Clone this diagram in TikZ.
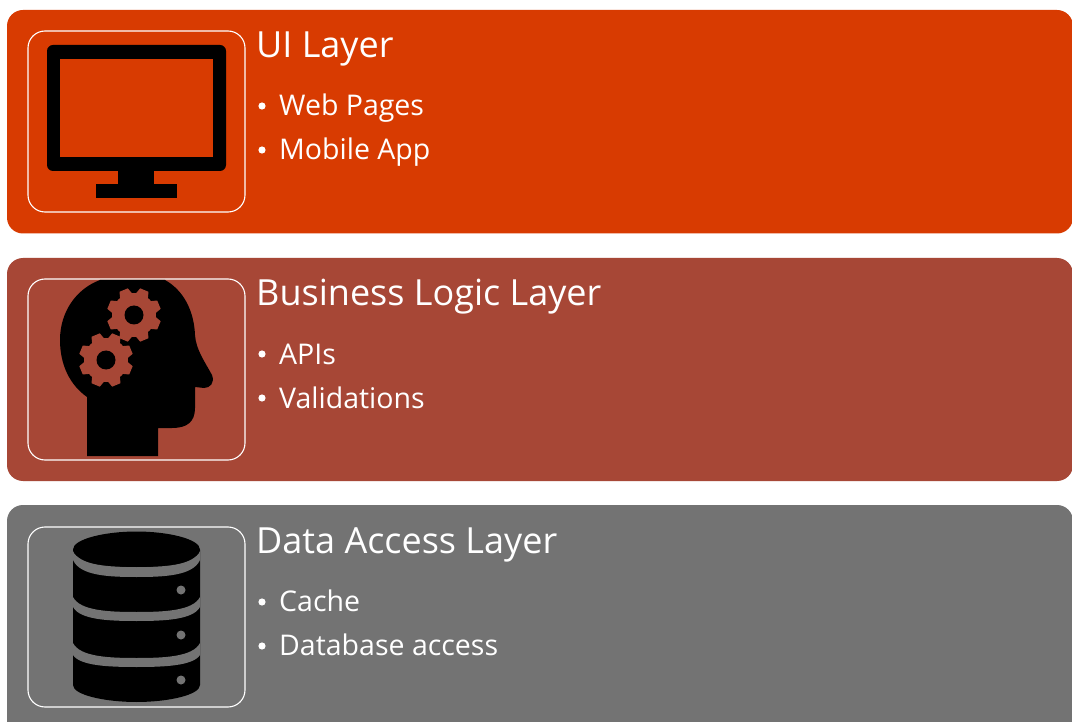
\documentclass[tikz,border=0pt]{standalone}
\usepackage{fontspec}
\setmainfont{Open Sans}[Scale=1]
\definecolor{uiC}{HTML}{D83B01}
\definecolor{blC}{HTML}{A74736}
\definecolor{daC}{HTML}{737373}
\tikzset{
  barbox/.style={rounded corners=16pt, draw=none},
  iconbox/.style={draw=white, line width=1.1pt, rounded corners=17pt, fill=none},
  titletext/.style={anchor=base west, inner sep=0pt, text=white, font=\fontsize{36}{36}\selectfont},
  itemtext/.style={anchor=base west, inner sep=0pt, text=white, font=\fontsize{28.5}{28.5}\selectfont},
}
\begin{document}
\begin{tikzpicture}[x=1pt,y=-1pt]
\useasboundingbox (0,0) rectangle (1072,722);
\fill[white] (0,0) rectangle (1072,722);
% bars
\fill[uiC,barbox] (7,10) rectangle (1073,233.5);
\fill[blC,barbox] (7,258) rectangle (1073,481);
\fill[daC,barbox] (7,505) rectangle (1073,740);
% icon boxes
\draw[iconbox] (28,31) rectangle (245,212);
\draw[iconbox] (28,279) rectangle (245,460);
\draw[iconbox] (28,527) rectangle (245,707);
% monitor
\fill[black,rounded corners=6pt] (47,45) rectangle (226,171);
\fill[uiC] (60,59) rectangle (213,157);
\fill[black] (118,170) rectangle (154,185);
\fill[black] (96,184) rectangle (177,198);
% head
\fill[black] (87,456) -- (87,397)
  .. controls (70,385) and (60,365) .. (60,340)
  .. controls (60,312) and (76,289) .. (100,280)
  -- (165,280)
  .. controls (183,290) and (194,310) .. (195,335)
  .. controls (196,350) and (205,362) .. (212,375)
  .. controls (215,383) and (210,388) .. (204,388)
  -- (195,387) -- (195,408)
  .. controls (195,422) and (187,428) .. (172,428)
  -- (158,428) -- (158,456) -- cycle;
% gears
\foreach \cx/\cy in {134/315,106/360}{
  \fill[blC] (\cx,\cy) circle (22);
  \foreach \a in {0,45,...,315}{
    \fill[blC,rotate around={\a+22.5:(\cx,\cy)}] (\cx-7,\cy-19) -- (\cx-4.5,\cy-27) -- (\cx+4.5,\cy-27) -- (\cx+7,\cy-19) -- cycle;
  }
  \fill[black] (\cx,\cy) circle (9.5);
}
% database
\fill[black] (73,550) -- (73,685) .. controls (73,695) and (105,702) .. (136.5,702)
  .. controls (168,702) and (200,695) .. (200,685) -- (200,550) -- cycle;
\foreach \ya/\yb/\yc/\yd in {551/560/567/577,597/607/612/621,643/655/658/667}{
  \fill[daC] (73,\ya) .. controls (80,\yc-1) and (110,\yc) .. (136.5,\yc)
     .. controls (163,\yc) and (193,\yc-1) .. (200,\ya)
     -- (200,\yb) .. controls (193,\yd-1) and (163,\yd) .. (136.5,\yd)
     .. controls (110,\yd) and (80,\yd-1) .. (73,\yb) -- cycle;
}
\fill[black] (73,549.5) .. controls (73,539) and (105,531.5) .. (136.5,531.5)
  .. controls (168,531.5) and (200,539) .. (200,549.5)
  .. controls (200,560) and (168,567) .. (136.5,567)
  .. controls (105,567) and (73,560) .. (73,549.5) -- cycle;
\foreach \y in {590,635,680}{\fill[daC] (181,\y) circle (4.5);}
% text
\node[titletext] (t1) at (256,58) {UI Layer};
\node[itemtext] (a1) at (279,116) {Web Pages};
\node[itemtext] (a2) at (279,160) {Mobile App};
\node[titletext] (t2) at (256,306) {Business Logic Layer};
\node[itemtext] (b1) at (279,364) {APIs};
\node[itemtext] (b2) at (279,408) {Validations};
\node[titletext] (t3) at (256,553) {Data Access Layer};
\node[itemtext] (c1) at (279,611) {Cache};
\node[itemtext] (c2) at (279,655) {Database access};
% bullets
\foreach \y in {106,150,354,398,602,646}{\fill[white] (262,\y) circle (3.6);}
\end{tikzpicture}
\end{document}
